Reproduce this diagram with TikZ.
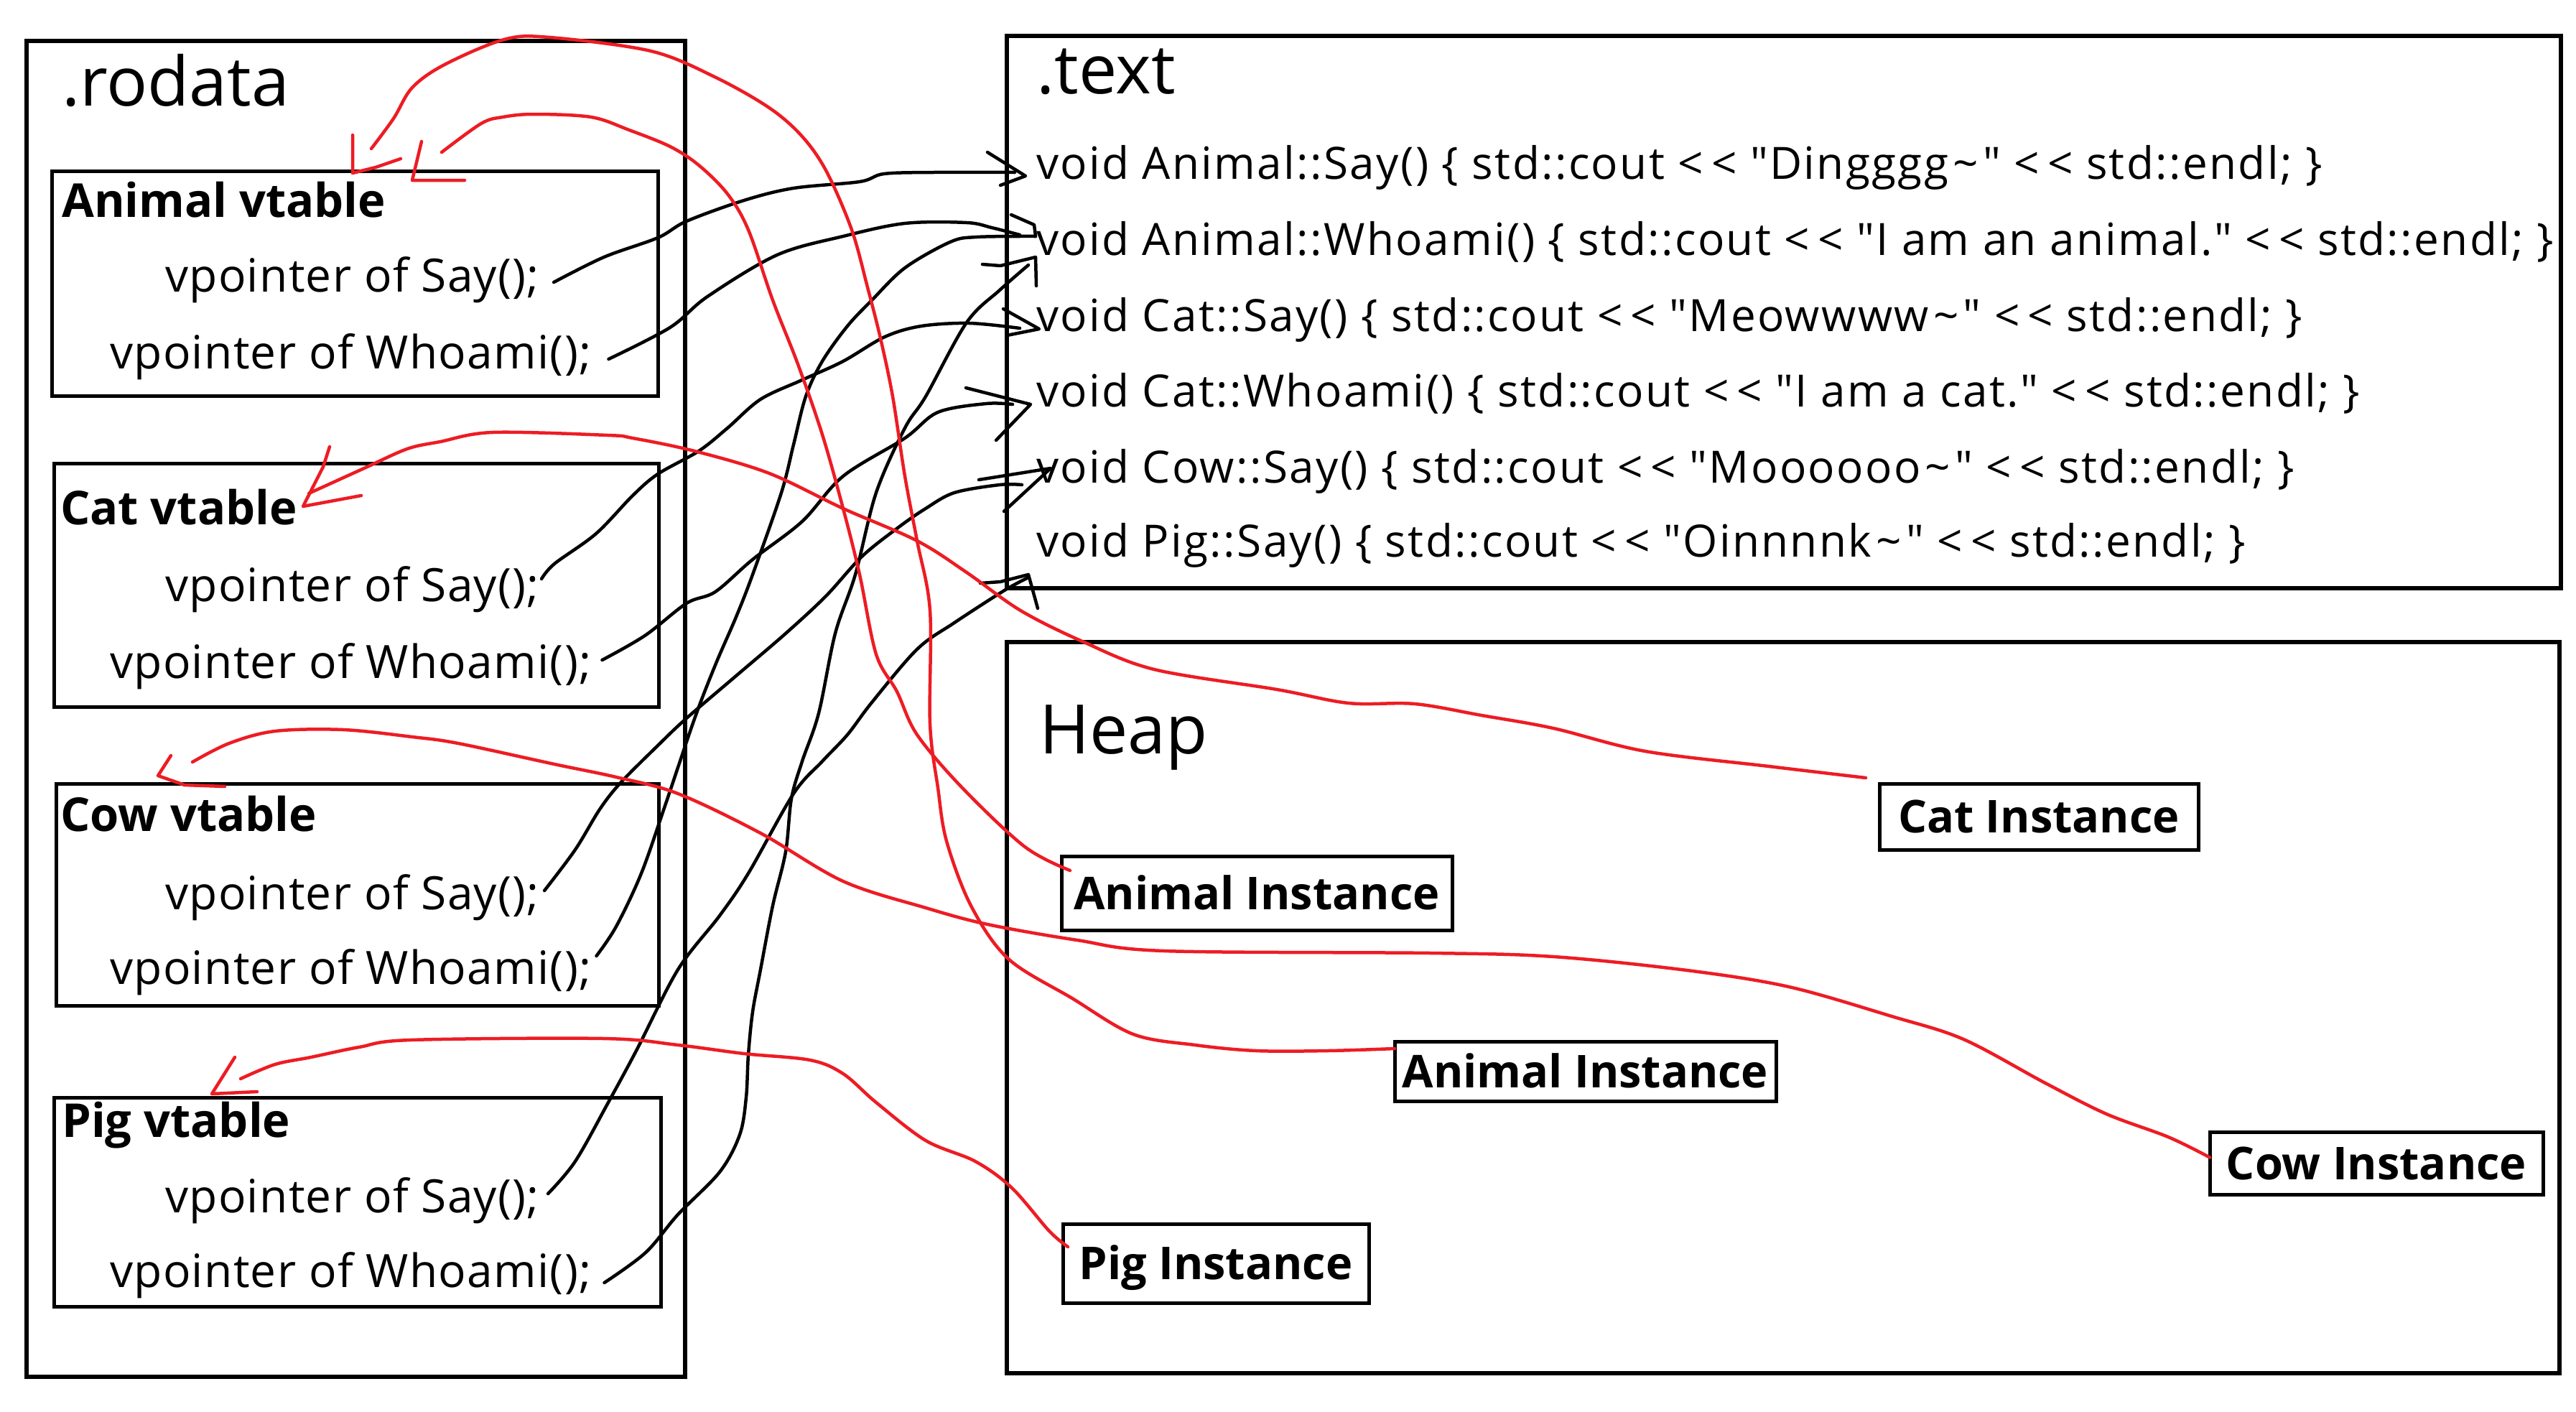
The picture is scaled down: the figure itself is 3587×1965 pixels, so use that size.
\documentclass[tikz,border=0pt]{standalone}
\usepackage{fontspec}
\setmainfont{Open Sans}
\newfontfamily\codefont{Open Sans}[LetterSpace=3.8]
\newfontfamily\ptrfont{Open Sans}[LetterSpace=2.0]
\usetikzlibrary{calc}
\definecolor{pred}{HTML}{ED1C24}
\newcommand\shl{<\kern0.18em<}
\newcommand\dq{\symbol{34}}
\newcommand\tld{\kern0.1em\textasciitilde\kern0.1em}
\begin{document}
\begin{tikzpicture}[x=1pt,y=-1pt,
  frame/.style={draw, line width=6pt, inner sep=0pt, outer sep=0pt},
  vbox/.style={draw, line width=5pt, inner sep=0pt, outer sep=0pt},
  inst/.style={draw, line width=5pt, inner sep=0pt, outer sep=0pt, text height=45pt, text depth=0pt, font=\fontsize{63}{63}\selectfont\bfseries},
  head/.style={anchor=base west, inner sep=0pt, font=\fontsize{95}{95}\selectfont},
  ttl/.style={anchor=base west, inner sep=0pt, font=\fontsize{65}{65}\selectfont\bfseries},
  ptr/.style={anchor=base west, inner sep=0pt, font=\fontsize{64}{64}\ptrfont},
  code/.style={anchor=base west, inner sep=0pt, font=\fontsize{62}{62}\codefont},
  blk/.style={draw=black, line width=4.5pt, line cap=round, line join=round},
  rd/.style={draw=pred, line width=4.5pt, line cap=round, line join=round},
]
\useasboundingbox (0,0) rectangle (3587,1965);
\fill[white] (0,0) rectangle (3587,1965);

% ---- frames ----
\node[frame, minimum width=917pt, minimum height=1860pt] (rodata) at (495.5,987) {};
\node[frame, minimum width=2164pt, minimum height=769pt] (textsec) at (2484,434.5) {};
\node[frame, minimum width=2162pt, minimum height=1018pt] (heap) at (2483,1403) {};

\node[vbox, minimum width=844pt, minimum height=313pt] (avt) at (494,394.5) {};
\node[vbox, minimum width=842pt, minimum height=339pt] (cvt) at (496,814.5) {};
\node[vbox, minimum width=839pt, minimum height=309pt] (wvt) at (497.5,1245.5) {};
\node[vbox, minimum width=845pt, minimum height=291pt] (pvt) at (497.5,1673.5) {};

% ---- headings ----
\node[head] (hrod) at (86,147) {.rodata};
\node[head] (htext) at (1443,130) {.text};
\node[head] (hheap) at (1447,1049) {Heap};

% ---- vtables ----
\node[ttl] (at) at (86,302) {Animal vtable};
\node[ptr] (aS) at (230,406) {vpointer of Say();};
\node[ptr] (aW) at (153,513) {vpointer of Whoami();};

\node[ttl] (ct) at (84,730) {Cat vtable};
\node[ptr] (cS) at (230,837) {vpointer of Say();};
\node[ptr] (cW) at (153,944) {vpointer of Whoami();};

\node[ttl] (wt) at (84,1157) {Cow vtable};
\node[ptr] (wS) at (230,1266) {vpointer of Say();};
\node[ptr] (wW) at (153,1370) {vpointer of Whoami();};

\node[ttl] (pt) at (86,1583) {Pig vtable};
\node[ptr] (pS) at (230,1688) {vpointer of Say();};
\node[ptr] (pW) at (153,1792) {vpointer of Whoami();};

% ---- code ----
\node[code] (c1) at (1443,249) {void Animal::Say() \{ std::cout \shl{} \dq Dingggg\tld\dq{} \shl{} std::endl; \}};
\node[code] (c2) at (1443,355) {void Animal::Whoami() \{ std::cout \shl{} \dq I am an animal.\dq{} \shl{} std::endl; \}};
\node[code] (c3) at (1443,461) {void Cat::Say() \{ std::cout \shl{} \dq Meowwww\tld\dq{} \shl{} std::endl; \}};
\node[code] (c4) at (1443,566) {void Cat::Whoami() \{ std::cout \shl{} \dq I am a cat.\dq{} \shl{} std::endl; \}};
\node[code] (c5) at (1443,672) {void Cow::Say() \{ std::cout \shl{} \dq Moooooo\tld\dq{} \shl{} std::endl; \}};
\node[code] (c6) at (1443,775) {void Pig::Say() \{ std::cout \shl{} \dq Oinnnnk\tld\dq{} \shl{} std::endl; \}};

% ---- instances ----
\node[inst, minimum width=444pt, minimum height=92pt] (ci) at (2839,1137) {Cat Instance};
\node[inst, minimum width=544pt, minimum height=103pt] (ai1) at (1750,1243.5) {Animal Instance};
\node[inst, minimum width=531pt, minimum height=83pt] (ai2) at (2207.5,1491.5) {Animal Instance};
\node[inst, minimum width=464pt, minimum height=87pt] (wi) at (3309,1619.5) {Cow Instance};
\node[inst, minimum width=426pt, minimum height=110pt] (pi) at (1693,1759) {Pig Instance};

% ---- connector ends ----
\coordinate (sAS) at ($(aS.base east)+(20,-13)$);
\coordinate (sAW) at ($(aW.base east)+(24,-13)$);
\coordinate (sCS) at ($(cS.base east)+(3,-31)$);
\coordinate (sCW) at ($(cW.base east)+(15,-25)$);
\coordinate (sWS) at ($(wS.base east)+(7,-26)$);
\coordinate (sWW) at ($(wW.base east)+(7,-39)$);
\coordinate (sPS) at ($(pS.base east)+(12,-26)$);
\coordinate (sPW) at ($(pW.base east)+(18,-6)$);

\coordinate (e1) at ($(c1.base west)+(-30,-9)$);
\coordinate (e2a) at ($(c2.base west)+(-23,-28)$);
\coordinate (e2b) at ($(c2.base west)+(-1,-26)$);
\coordinate (e2c) at ($(c2.base west)+(-11,14)$);
\coordinate (e3) at ($(c3.base west)+(-23,-4)$);
\coordinate (e4) at ($(c4.base west)+(-33,-3)$);
\coordinate (e5) at ($(c5.base west)+(-20,3)$);
\coordinate (e6) at ($(c6.base west)+(-13,30)$);

\coordinate (rA1) at ($(ai1.north west)+(12,20)$);
\coordinate (rA2) at ($(ai2.north west)+(0,10)$);
\coordinate (rC) at ($(ci.north west)+(-19,-8)$);
\coordinate (rW) at ($(wi.west)+(0,-8)$);
\coordinate (rP) at ($(pi.west)+(7,-23)$);

\coordinate (tA1) at (615,212);
\coordinate (tA2) at (517,207);
\coordinate (tC) at (430,687);
\coordinate (tW) at (268,1061);
\coordinate (tP) at (335,1502);

% ---- black connectors ----
\draw[blk] plot[smooth, tension=0.55] coordinates {(sAS) (841,358) (916,331) (956,308) (1036,279) (1105,262) (1197,253) (1231,242) (1300,240) (e1)};
\draw[blk] (1375,212) -- (1428,245) -- (1393,258);

\draw[blk] plot[smooth, tension=0.55] coordinates {(sAW) (933,456) (985,413) (1082,355) (1174,329) (1260,311) (1346,310) (1381,317) (e2a)};
\draw[blk] (1408,299) -- (1440,313) -- (1442,329);

\draw[blk] plot[smooth, tension=0.55] coordinates {(sWW) (858,1290) (893,1216) (927,1119) (967,1001) (996,926) (1025,859) (1048,800) (1088,686) (1105,619) (1122,552) (1145,503) (1180,454) (1214,418) (1260,373) (1323,337) (1360,330) (e2b)};

\draw[blk] plot[smooth, tension=0.55] coordinates {(sPW) (899,1744) (944,1691) (1002,1632) (1030,1580) (1039,1528) (1042,1469) (1048,1409) (1059,1350) (1076,1261) (1094,1186) (1102,1112) (1117,1060) (1140,993) (1163,882) (1191,800) (1220,686) (1260,596) (1289,552) (1346,449) (1392,404) (e2c)};
\draw[blk] (1368,368) -- (1393,370) -- (1442,358) -- (1443,398);

\draw[blk] plot[smooth, tension=0.55] coordinates {(sCS) (772,785) (830,743) (881,690) (916,660) (973,628) (1013,596) (1059,556) (1117,529) (1174,503) (1232,469) (1283,454) (1350,450) (e3)};
\draw[blk] (1397,430) -- (1447,458) -- (1402,467);

\draw[blk] plot[smooth, tension=0.55] coordinates {(sCW) (898,885) (956,840) (996,824) (1048,779) (1117,726) (1174,663) (1260,610) (1306,574) (1373,562) (e4)};
\draw[blk] (1345,540) -- (1435,563) -- (1387,613);

\draw[blk] plot[smooth, tension=0.55] coordinates {(sWS) (801,1183) (835,1127) (864,1090) (916,1038) (956,1000) (1025,941) (1094,882) (1150,830) (1200,775) (1250,735) (1289,708) (1329,686) (1392,675) (e5)};
\draw[blk] (1363,668) -- (1463,652) -- (1398,712);

\draw[blk] plot[smooth, tension=0.55] coordinates {(sPS) (801,1617) (847,1535) (887,1461) (944,1350) (1002,1275) (1042,1216) (1105,1105) (1145,1060) (1180,1023) (1214,978) (1277,904) (1329,867) (1397,823) (e6)};
\draw[blk] (1365,812) -- (1393,810) -- (1432,800) -- (1445,847);

% ---- red connectors ----
\draw[rd] plot[smooth, tension=0.55] coordinates {(rA1) (1427,1179) (1340,1097) (1277,1023) (1249,963) (1220,911) (1197,800) (1174,708) (1145,605) (1111,507) (1076,418) (1042,320) (1013,270) (973,230) (933,204) (876,181) (823,163) (743,159) (700,163) (670,172) (tA1)};
\draw[rd] (587,197) -- (574,251) -- (647,251);

\draw[rd] plot[smooth, tension=0.55] coordinates {(rA2) (1849,1463) (1749,1463) (1664,1455) (1578,1440) (1493,1390) (1404,1335) (1352,1261) (1318,1171) (1306,1097) (1295,1008) (1295,850) (1277,753) (1260,663) (1243,552) (1226,471) (1208,400) (1186,320) (1151,239) (1117,190) (1071,150) (995,107) (906,71) (765,52) (702,55) (619,90) (574,122) (548,165) (tA2)};
\draw[rd] (491,188) -- (491,241) -- (523,233) -- (558,221);

\draw[rd] plot[smooth, tension=0.55] coordinates {(rC) (2463,1067) (2291,1046) (2163,1014) (2063,996) (1970,980) (1878,979) (1778,960) (1607,932) (1507,893) (1421,850) (1346,797) (1277,753) (1174,708) (1071,659) (967,628) (881,610) (846,606) (686,602) (613,615) (567,625) (507,652) (tC)};
\draw[rd] (459,622) -- (450,650) -- (422,705) -- (503,690);

\draw[rd] plot[smooth, tension=0.55] coordinates {(rW) (3019,1583) (2933,1551) (2848,1508) (2734,1447) (2634,1415) (2491,1374) (2349,1351) (2163,1332) (1992,1327) (1621,1324) (1500,1309) (1375,1287) (1289,1264) (1174,1227) (1059,1160) (944,1105) (858,1082) (772,1064) (638,1035) (574,1026) (478,1016) (383,1018) (319,1035) (tW)};
\draw[rd] (238,1052) -- (220,1080) -- (257,1093) -- (313,1095);

\draw[rd] plot[smooth, tension=0.55] coordinates {(rP) (1461,1714) (1409,1654) (1358,1617) (1289,1588) (1220,1535) (1174,1495) (1128,1476) (1036,1467) (944,1455) (841,1446) (572,1448) (500,1458) (433,1472) (383,1482) (tP)};
\draw[rd] (327,1472) -- (295,1523) -- (358,1520);
\end{tikzpicture}
\end{document}
